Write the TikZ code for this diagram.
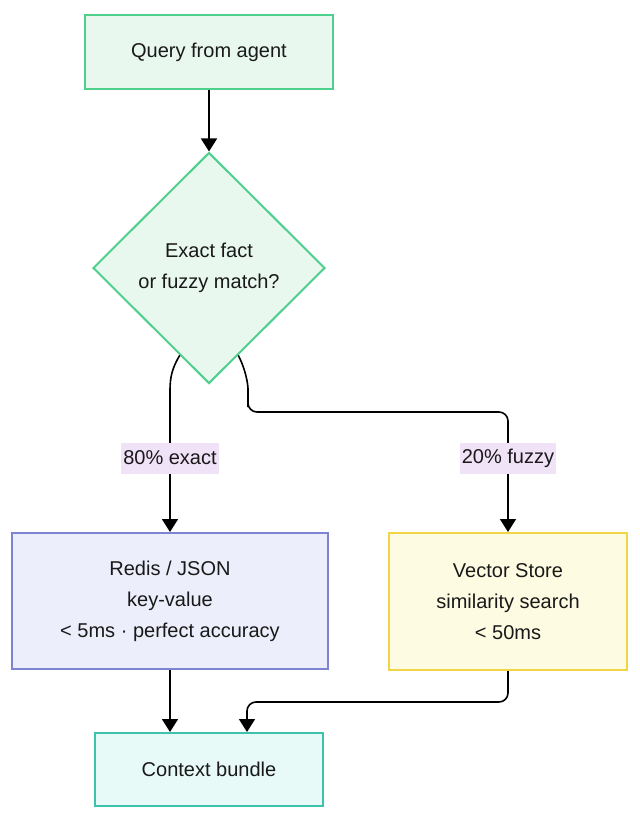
\documentclass[tikz,border=0pt]{standalone}
\usepackage{fontspec}
\setmainfont{Liberation Sans}
\usetikzlibrary{shapes.geometric,arrows.meta,calc}
\definecolor{qfill}{HTML}{E8F8EF}
\definecolor{qdraw}{HTML}{4FCF8C}
\definecolor{rfill}{HTML}{EDEEFB}
\definecolor{rdraw}{HTML}{7F84D2}
\definecolor{vfill}{HTML}{FDFBE1}
\definecolor{vdraw}{HTML}{F2D545}
\definecolor{cfill}{HTML}{E7FAF7}
\definecolor{cdraw}{HTML}{3DC2AC}
\definecolor{lblbg}{HTML}{F0E2F7}
\tikzset{
  txt/.style={font=\fontsize{20}{31}\selectfont, align=center, text=black!90},
  boxq/.style={txt, draw=qdraw, fill=qfill, line width=2pt, minimum width=248pt, minimum height=74pt},
  decision/.style={txt, diamond, draw=qdraw, fill=qfill, line width=2pt, minimum width=232pt, minimum height=231pt, inner sep=0pt},
  boxr/.style={txt, draw=rdraw, fill=rfill, line width=2pt, minimum width=316pt, minimum height=136pt},
  boxv/.style={txt, draw=vdraw, fill=vfill, line width=2pt, minimum width=238pt, minimum height=137pt},
  boxc/.style={txt, draw=cdraw, fill=cfill, line width=2pt, minimum width=228pt, minimum height=73pt},
  lbl/.style={txt, fill=lblbg, inner sep=2pt, minimum height=31pt},
  conn/.style={draw=black, line width=1.6pt, -{Triangle[width=16pt,length=13pt]}},
}
\begin{document}
\begin{tikzpicture}[x=1pt,y=-1pt]
\useasboundingbox[fill=white] (0,0) rectangle (640,823);
\node[boxq] (q) at (209,52) {Query from agent};
\node[decision] (d) at (209,268) {Exact fact\\or fuzzy match?};
\node[boxr] (r) at (170,601) {Redis / JSON\\key-value\\< 5ms · perfect accuracy};
\node[boxv] (v) at (508,601.5) {Vector Store\\similarity search\\< 50ms};
\node[boxc] (c) at (209,769.5) {Context bundle};
\coordinate (dl) at ($(d.south)!0.25!(d.west)$);
\coordinate (dr) at ($(d.south)!0.25!(d.east)$);
\coordinate (dlb) at (170,390);
\coordinate (drb) at (248,412);
\coordinate (vr) at (508,412);
\coordinate (vb) at (508,702);
\coordinate (cb) at (247,702);
\draw[conn] (q) -- (d);
\draw[conn] (dl) .. controls (172,368) and (170,378) .. (dlb) -- (r.north -| dlb);
\draw[conn, rounded corners=9pt] (dr) .. controls (246,370) and (248,385) .. (248,398) -- (drb) -- (vr) -- (v.north -| vr);
\draw[conn] (r.south) -- (r.south |- c.north);
\draw[conn, rounded corners=9pt] (v.south -| vb) -- (vb) -- (cb) -- (cb |- c.north);
\node[lbl] (l1) at (170,458) {80\% exact};
\node[lbl] (l2) at (508,458) {20\% fuzzy};
\end{tikzpicture}
\end{document}
